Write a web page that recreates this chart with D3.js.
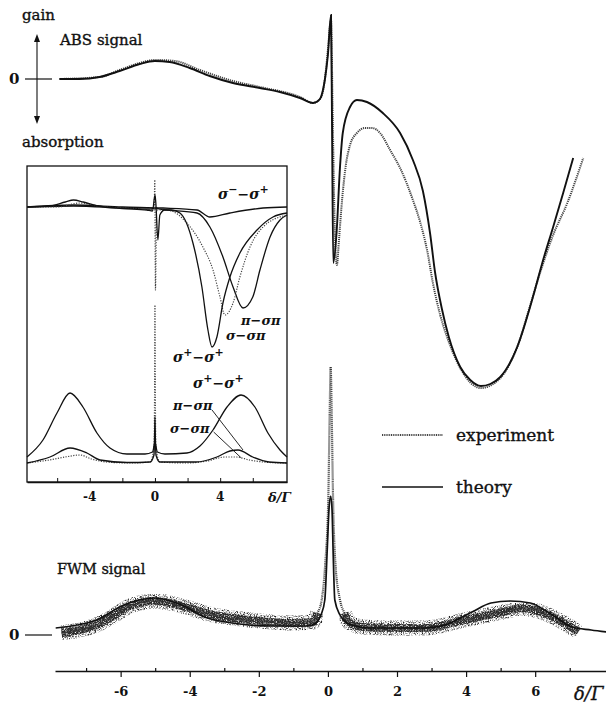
<!DOCTYPE html>
<html><head><meta charset="utf-8">
<script src="https://cdn.jsdelivr.net/npm/d3@7"></script>
<style>
body{margin:0;background:#fff}
svg{display:block}
text{font-family:"DejaVu Serif","Liberation Serif",serif;fill:#111}
.lbl{stroke:#111;stroke-width:0.35px}
</style>
</head><body>
<svg id="chart" width="606" height="704">
  <defs>
    <!-- speckle texture for the measured FWM trace -->
    <filter id="grainOuter" x="-2%" y="-20%" width="104%" height="140%">
      <feTurbulence type="fractalNoise" baseFrequency="0.85" numOctaves="2" seed="4" result="noise"/>
      <feColorMatrix in="noise" type="matrix" values="0 0 0 0 0  0 0 0 0 0  0 0 0 0 0  3.2 0 0 0 -1.4" result="mask"/>
      <feComposite in="SourceGraphic" in2="mask" operator="in"/>
    </filter>
    <filter id="grainInner" x="-2%" y="-20%" width="104%" height="140%">
      <feTurbulence type="fractalNoise" baseFrequency="0.9" numOctaves="2" seed="11" result="noise"/>
      <feColorMatrix in="noise" type="matrix" values="0 0 0 0 0  0 0 0 0 0  0 0 0 0 0  3.2 0 0 0 -0.8" result="mask"/>
      <feComposite in="SourceGraphic" in2="mask" operator="in"/>
    </filter>
  </defs>
</svg>
<script>
// ---- detuning δ/Γ vs signal (arbitrary units) ----
// absorption (ABS) signal, main panel
const absTheory = [[-7.77,0],[-7.19,0],[-6.61,0.2],[-6.03,0.8],[-5.45,1.5],[-5.01,1.8],[-4.58,1.7],[-4.0,1.1],[-3.42,0.3],[-2.75,-0.4],[-1.97,-0.9],[-1.39,-1.3],[-0.81,-1.9],[-0.43,-2.4],[-0.23,-2.0],[-0.09,-0.1],[0.0,2.4],[0.09,6.4],[0.12,-5.0],[0.155,-18.4],[0.25,-15.4],[0.35,-8.8],[0.43,-5.4],[0.64,-2.8],[0.84,-2.1],[1.13,-2.3],[1.59,-3.4],[2.09,-5.4],[2.46,-8.1],[2.75,-11.2],[2.96,-15.5],[3.1,-19.3],[3.3,-23.0],[3.5,-25.8],[3.83,-28.8],[4.12,-30.1],[4.43,-30.7],[4.7,-30.5],[4.99,-29.8],[5.48,-26.8],[5.91,-22.1],[6.23,-18.1],[6.52,-14.8],[6.81,-11.4],[7.1,-7.9]];
const absExperiment = [[-7.77,0],[-6.61,0.2],[-6.03,0.9],[-5.45,1.6],[-5.01,1.9],[-4.43,1.8],[-3.71,0.9],[-2.75,-0.2],[-1.97,-0.8],[-0.81,-1.8],[-0.43,-2.4],[-0.23,-2.0],[-0.09,-0.1],[0.0,2.9],[0.09,5.9],[0.14,-4.1],[0.2,-15.1],[0.26,-18.6],[0.32,-16.1],[0.41,-12.1],[0.52,-8.6],[0.64,-6.6],[0.84,-5.4],[1.07,-4.9],[1.28,-4.9],[1.51,-5.4],[1.8,-7.1],[2.09,-8.9],[2.46,-12.1],[2.67,-14.3],[2.87,-17.1],[3.04,-20.4],[3.25,-23.6],[3.45,-25.8],[3.83,-28.9],[4.43,-30.9],[4.99,-29.9],[5.48,-26.8],[5.86,-22.6],[6.14,-19.4],[6.52,-15.6],[6.93,-12.4],[7.39,-7.9]];

// four-wave-mixing (FWM) signal, main panel
const fwmTheory = [[-7.88,0.7],[-6.7,1.5],[-5.91,3.0],[-5.01,3.7],[-4.23,3.0],[-3.57,1.8],[-2.78,1.2],[-1.65,0.9],[-0.55,0.9],[-0.35,1.2],[-0.2,2.0],[-0.09,3.5],[-0.02,8.5],[0.03,12.5],[0.08,13.9],[0.12,12.5],[0.15,8.5],[0.2,3.5],[0.35,2.0],[0.55,1.2],[0.8,0.9],[1.13,0.7],[2.81,0.7],[3.39,1.0],[4.17,2.3],[4.72,3.2],[5.28,3.4],[5.86,3.2],[6.41,2.2],[7.07,0.8],[7.62,0.5],[8.06,0.3]];
const fwmExperiment = [[-7.71,0.2],[-7.19,0.5],[-6.7,1.0],[-6.17,2.0],[-5.8,2.8],[-5.3,3.3],[-5.01,3.4],[-4.58,3.2],[-4.12,2.8],[-3.33,2.0],[-2.23,1.5],[-1.1,1.2],[-0.43,1.3],[-0.3,2.2],[-0.18,3.5],[-0.08,7.0],[0.01,13.5],[0.05,22.0],[0.08,26.8],[0.11,22.0],[0.15,13.5],[0.22,7.0],[0.35,3.5],[0.48,2.2],[0.6,1.3],[1.0,0.8],[1.71,0.7],[2.81,0.7],[3.94,1.5],[5.07,2.3],[5.62,2.7],[6.17,2.3],[6.84,1.2],[7.25,0.3]];

// inset: calculated absorption for each polarisation configuration
const insetAbsSpSp = [[-7.85,0],[-6.5,0.1],[-5.5,0.5],[-5.0,0.7],[-4.4,0.5],[-3.5,0.1],[-2.0,-0.15],[-0.5,-0.3],[-0.15,-0.4],[0.0,1.2],[0.05,0.5],[0.18,-3.3],[0.3,-0.8],[0.6,-0.3],[1.0,-0.3],[1.53,-0.6],[2.33,-3.6],[2.88,-8.0],[3.25,-12.3],[3.5,-14.0],[3.8,-13.0],[4.17,-9.6],[4.6,-7.0],[5.21,-4.6],[6.26,-2.3],[7.24,-1.0],[8.1,-0.6]];
const insetAbsSigmaSP = [[-7.85,0],[-6.0,0.0],[-4.6,0.4],[-3.5,0.1],[-2.0,-0.1],[-0.5,-0.2],[-0.05,-0.3],[-0.01,2.7],[0.03,-8.3],[0.1,-0.3],[0.7,-0.3],[1.96,-1.6],[2.94,-4.0],[3.56,-6.3],[3.99,-9.0],[4.29,-10.8],[4.79,-9.6],[5.21,-7.0],[5.83,-4.0],[6.63,-2.0],[8.1,-0.8]];
const insetAbsPiSP = [[-7.85,0],[-5.0,0.1],[-2.0,-0.1],[-0.3,-0.2],[0.0,-0.1],[0.3,-0.2],[2.58,-0.6],[3.37,-2.0],[4.17,-5.0],[4.79,-8.0],[5.4,-10.1],[6.0,-9.0],[6.44,-6.3],[7.06,-3.0],[7.67,-1.3],[8.1,-0.8]];
const insetAbsSmSp = [[-7.85,0],[-5.0,0.2],[-2.0,0.0],[0.5,-0.1],[2.58,-0.3],[3.37,-1.0],[4.6,-0.6],[6.63,-0.1],[8.1,0.0]];

// inset: calculated FWM for each polarisation configuration
const insetFwmSpSp = [[-7.85,0.6],[-6.87,2.3],[-6.01,5.0],[-5.21,7.0],[-4.42,5.6],[-3.56,3.0],[-2.76,1.5],[-1.72,0.9],[-0.61,0.9],[-0.15,1.1],[0.0,2.0],[0.15,1.1],[0.61,0.9],[1.96,1.0],[2.76,1.7],[3.56,3.3],[4.42,5.6],[5.28,6.8],[6.13,5.6],[6.93,3.0],[7.67,1.3],[8.1,0.6]];
const insetFwmPiSP = [[-7.85,0],[-6.44,0.6],[-5.21,1.5],[-4.17,1.0],[-3.37,0.3],[-1.72,0.05],[-0.3,0.1],[-0.06,0.8],[-0.02,3.0],[0.0,4.6],[0.02,3.0],[0.06,0.8],[0.3,0.1],[2.5,0.1],[3.8,0.6],[4.6,1.2],[5.1,1.3],[6.0,0.6],[7.0,0.1],[8.1,0]];
const insetFwmSigmaSP = [[-7.85,0],[-6.5,0.3],[-5.5,0.6],[-4.6,0.8],[-3.9,0.4],[-3.0,0.1],[-1.5,0.0],[-0.3,0.1],[-0.06,1.5],[-0.02,8.0],[0.0,15.8],[0.02,8.0],[0.06,1.5],[0.3,0.1],[2.0,0.0],[3.2,0.2],[4.3,0.6],[5.0,0.6],[5.8,0.3],[7.0,0.05],[8.1,0]];

// axis ticks
const mainMajorTicks = [-6,-4,-2,0,2,4,6];
const mainMinorTicks = [-7,-5,-3,-1,1,3,5,7];
const insetTicks = [-6,-4,-2,0,2,4,6];
const insetTickLabels = [-4,0,4];

const svg = d3.select("#chart");
const ink = "#111";

// ---- scales ----
const x = d3.scaleLinear().domain([-7.9, 8.05]).range([55, 606]);
const yAbs = d3.scaleLinear().domain([-31, 7]).range([389, 9]);
const yFwm = d3.scaleLinear().domain([0, 27]).range([635, 365]);

const xi = d3.scaleLinear().domain([-7.85, 8.1]).range([27, 287]);
const yiAbs = d3.scaleLinear().domain([-15, 3]).range([357, 177]);
const yiFwm = d3.scaleLinear().domain([0, 16]).range([463, 303]);

const lineOf = (sx, sy) => d3.line().x(d => sx(d[0])).y(d => sy(d[1])).curve(d3.curveMonotoneX);

// ---- main panel: ABS signal ----
svg.append("path").datum(absExperiment)
  .attr("d", lineOf(x, yAbs))
  .attr("fill", "none").attr("stroke", "#444").attr("stroke-width", 2)
  .attr("stroke-dasharray", "1.2,0.9");
svg.append("path").datum(absTheory)
  .attr("d", lineOf(x, yAbs))
  .attr("fill", "none").attr("stroke", ink).attr("stroke-width", 1.9);

// ---- main panel: FWM signal ----
// speckled measured band away from the narrow central resonance
const bandLeft = fwmExperiment.filter(d => d[0] <= -0.3);
const bandRight = fwmExperiment.filter(d => d[0] >= 0.48);
[bandLeft, bandRight].forEach(seg => {
  svg.append("path").datum(seg)
    .attr("d", lineOf(x, yFwm))
    .attr("fill", "none").attr("stroke", "#222").attr("stroke-width", 15)
    .attr("filter", "url(#grainOuter)");
  svg.append("path").datum(seg)
    .attr("d", lineOf(x, yFwm))
    .attr("fill", "none").attr("stroke", "#2a2a2a").attr("stroke-width", 8)
    .attr("filter", "url(#grainInner)");
});
svg.append("path").datum(fwmExperiment)
  .attr("d", lineOf(x, yFwm))
  .attr("fill", "none").attr("stroke", "#333").attr("stroke-width", 2.2)
  .attr("stroke-dasharray", "1,1");
svg.append("path").datum(fwmTheory)
  .attr("d", lineOf(x, yFwm))
  .attr("fill", "none").attr("stroke", ink).attr("stroke-width", 1.7);

// ---- main bottom axis ----
const axisG = svg.append("g").attr("transform", "translate(0,671)");
axisG.call(d3.axisBottom(x).tickValues(mainMajorTicks).tickSize(6).tickSizeOuter(0)
  .tickPadding(10).tickFormat(d => String(d)));
axisG.select(".domain").attr("stroke", ink).attr("stroke-width", 1.4);
axisG.selectAll(".tick line").attr("stroke", ink).attr("stroke-width", 1.2);
axisG.selectAll(".tick text").attr("font-family", "'DejaVu Serif',serif")
  .attr("font-size", 13).attr("font-weight", "bold").attr("fill", ink);
const minorG = svg.append("g").attr("transform", "translate(0,671)");
minorG.call(d3.axisTop(x).tickValues(mainMinorTicks).tickSize(3).tickFormat(""));
minorG.select(".domain").remove();
minorG.selectAll(".tick line").attr("stroke", ink).attr("stroke-width", 1.2);

svg.append("text").attr("x", 574).attr("y", 700).attr("class", "lbl")
  .attr("font-size", 18).attr("font-style", "italic").text("δ/Γ");

// ---- main labels ----
svg.append("text").attr("class", "lbl").attr("x", 22).attr("y", 20).attr("font-size", 15).text("gain");
svg.append("text").attr("class", "lbl").attr("x", 60).attr("y", 45).attr("font-size", 15).text("ABS signal");
svg.append("text").attr("class", "lbl").attr("x", 22).attr("y", 147).attr("font-size", 15).text("absorption");
svg.append("text").attr("class", "lbl").attr("x", 57).attr("y", 574).attr("font-size", 14.5).text("FWM signal");

// zero markers
[yAbs(0), yFwm(0)].forEach(yy => {
  svg.append("text").attr("x", 9).attr("y", yy + 5).attr("font-size", 15).attr("font-weight", "bold").text("0");
  svg.append("line").attr("x1", 25).attr("x2", 52).attr("y1", yy).attr("y2", yy)
    .attr("stroke", ink).attr("stroke-width", 1.2);
});

// gain / absorption double arrow
svg.append("line").attr("x1", 37).attr("x2", 37).attr("y1", 40).attr("y2", 118)
  .attr("stroke", ink).attr("stroke-width", 1.1);
svg.append("path").attr("d", "M37,34 L34,42 L40,42 Z").attr("fill", ink);
svg.append("path").attr("d", "M37,124 L34,116 L40,116 Z").attr("fill", ink);

// ---- legend ----
svg.append("line").attr("x1", 382).attr("x2", 443).attr("y1", 435).attr("y2", 435)
  .attr("stroke", "#444").attr("stroke-width", 2).attr("stroke-dasharray", "1,0.8");
svg.append("text").attr("class", "lbl").attr("x", 456).attr("y", 441).attr("font-size", 17).text("experiment");
svg.append("line").attr("x1", 382).attr("x2", 443).attr("y1", 487).attr("y2", 487)
  .attr("stroke", ink).attr("stroke-width", 1.6);
svg.append("text").attr("class", "lbl").attr("x", 456).attr("y", 493).attr("font-size", 17).text("theory");

// ---- inset ----
const inset = svg.append("g");
inset.append("rect").attr("x", 27).attr("y", 166).attr("width", 260).attr("height", 316)
  .attr("fill", "#fff").attr("stroke", ink).attr("stroke-width", 1.3);

const iLine = (data, sy, dotted) => inset.append("path").datum(data)
  .attr("d", lineOf(xi, sy)).attr("fill", "none")
  .attr("stroke", dotted ? "#444" : ink)
  .attr("stroke-width", dotted ? 1.2 : 1.3)
  .attr("stroke-dasharray", dotted ? "1.2,1.4" : null);

iLine(insetAbsSmSp, yiAbs, false);
iLine(insetAbsPiSP, yiAbs, false);
iLine(insetAbsSigmaSP, yiAbs, true);
iLine(insetAbsSpSp, yiAbs, false);
iLine(insetFwmSigmaSP, yiFwm, true);
iLine(insetFwmPiSP, yiFwm, false);
iLine(insetFwmSpSp, yiFwm, false);

// inset axis
const iAxis = inset.append("g").attr("transform", "translate(0,482)");
iAxis.call(d3.axisTop(xi).tickValues(insetTicks).tickSize(4).tickSizeOuter(0).tickFormat(""));
iAxis.select(".domain").attr("stroke", ink).attr("stroke-width", 1.3);
iAxis.selectAll(".tick line").attr("stroke", ink);
inset.selectAll("text.itick").data(insetTickLabels).join("text").attr("class", "itick")
  .attr("x", d => xi(d)).attr("y", 501).attr("text-anchor", "middle")
  .attr("font-size", 12).attr("font-weight", "bold").text(d => String(d));
inset.append("text").attr("x", 268).attr("y", 502).attr("font-size", 13)
  .attr("font-style", "italic").attr("font-weight", "bold").text("δ/Γ");

// inset curve labels (σ, π with ± superscripts)
function greek(xp, yp, parts, size) {
  const fs = size || 14;
  const t = inset.append("text").attr("x", xp).attr("y", yp)
    .attr("font-size", fs).attr("font-style", "italic").attr("font-weight", "bold");
  let raised = false;
  parts.forEach(([s, sup]) => {
    const ts = t.append("tspan").text(s);
    if (sup && !raised) { ts.attr("dy", -6).attr("font-size", fs - 3).attr("font-style", "normal"); raised = true; }
    else if (!sup && raised) { ts.attr("dy", 6); raised = false; }
    else if (sup) { ts.attr("font-size", fs - 3).attr("font-style", "normal"); }
  });
  return t;
}
greek(218, 199, [["σ",0],["−",1],["−",0],["σ",0],["+",1]]);
greek(241, 325, [["π−σπ",0]], 13);
greek(226, 340, [["σ−σπ",0]], 13);
greek(173, 362, [["σ",0],["+",1],["−",0],["σ",0],["+",1]]);
greek(193, 388, [["σ",0],["+",1],["−",0],["σ",0],["+",1]]);
greek(173, 410, [["π−σπ",0]], 13);
greek(170, 433, [["σ−σπ",0]], 13);

// leader lines from labels to their curves
inset.append("line").attr("x1", xi(3.5)).attr("y1", 410).attr("x2", xi(5.4)).attr("y2", yiFwm(1.3))
  .attr("stroke", ink).attr("stroke-width", 0.9);
inset.append("line").attr("x1", xi(3.6)).attr("y1", 432).attr("x2", xi(5.3)).attr("y2", yiFwm(0.5))
  .attr("stroke", ink).attr("stroke-width", 0.9);
</script>
</body></html>
